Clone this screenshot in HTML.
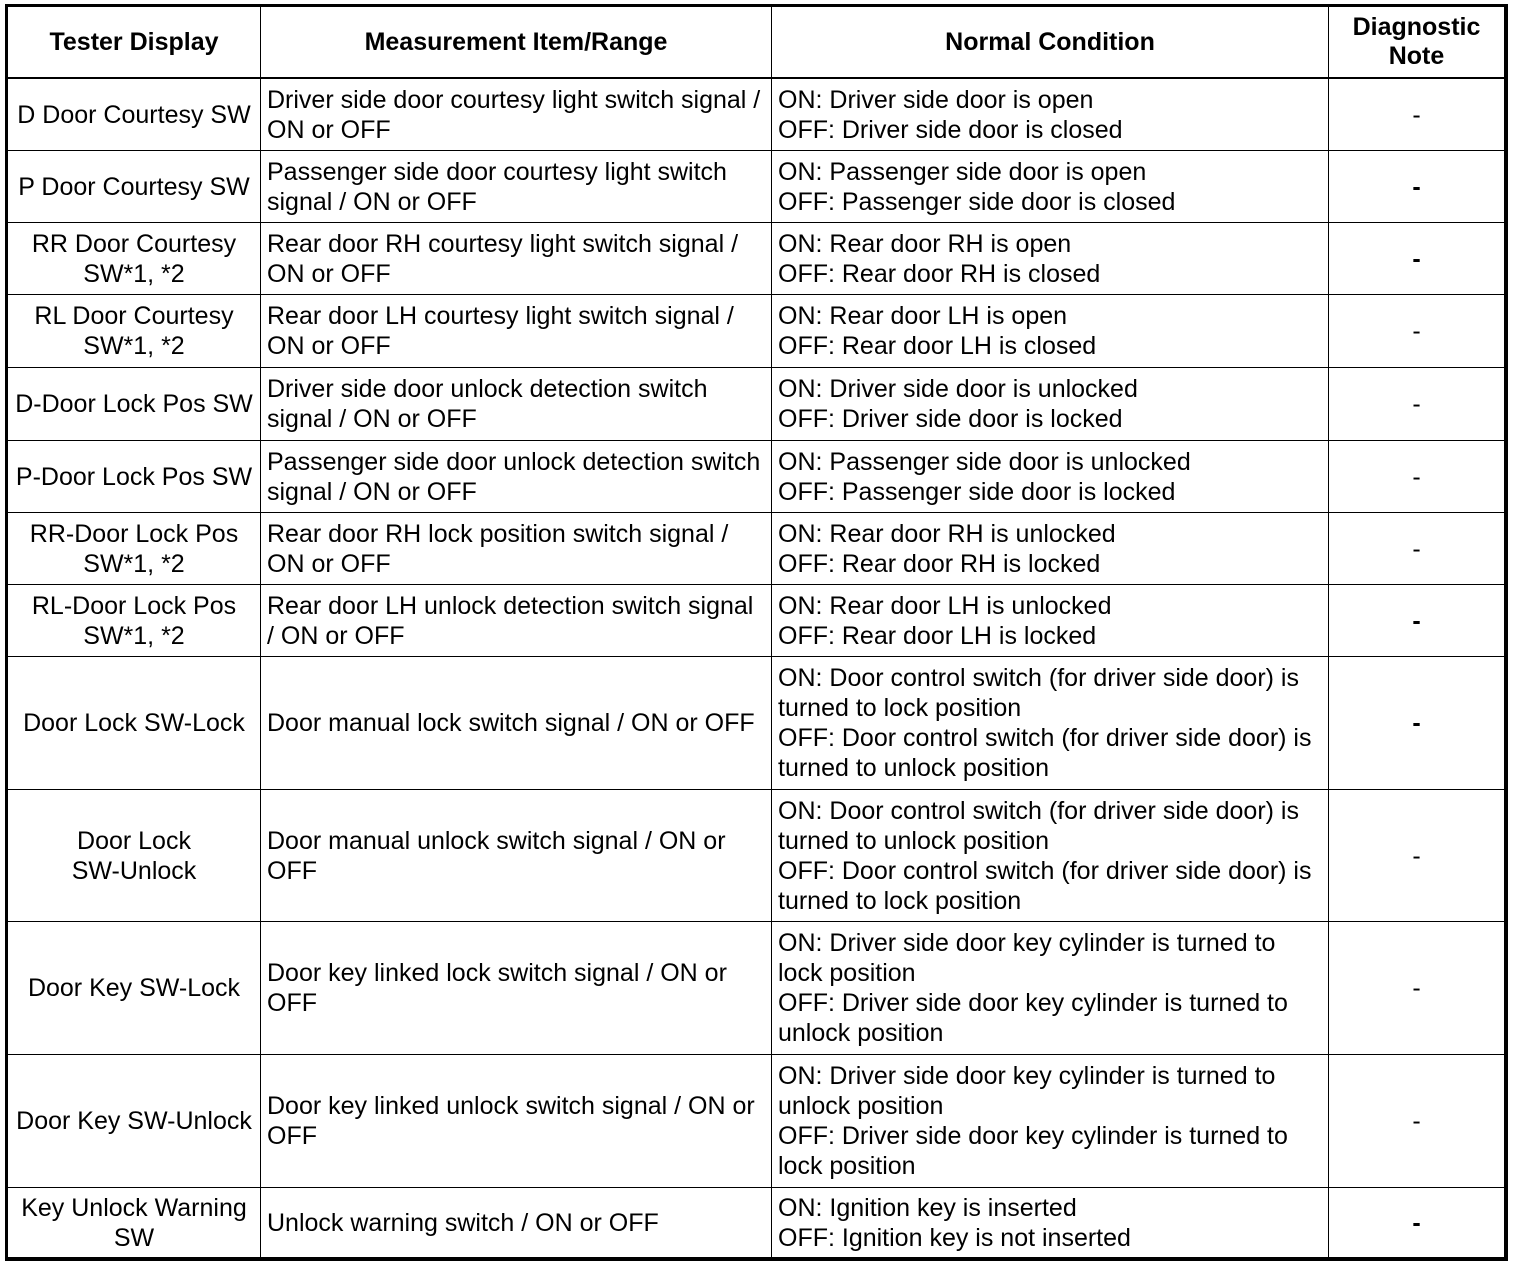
<!DOCTYPE html>
<html><head><meta charset="utf-8"><style>
body{margin:0;background:#fff;width:1520px;height:1266px;position:relative;overflow:hidden;font-family:"Liberation Sans",Arial,sans-serif;color:#000}
.h{position:absolute;background:#000}
.c{position:absolute;display:flex;align-items:center;font-size:25px;line-height:30px;box-sizing:border-box;white-space:nowrap}
.l{padding-left:6px;justify-content:flex-start}
.m{justify-content:center;text-align:center}
.b{font-weight:bold}
.d{font-weight:bold}
</style></head><body>
<div class="h" style="left:5px;top:4px;width:1503px;height:3px"></div>
<div class="h" style="left:5px;top:1257px;width:1503px;height:4px"></div>
<div class="h" style="left:5px;top:4px;width:3px;height:1257px"></div>
<div class="h" style="left:1504px;top:4px;width:4px;height:1257px"></div>
<div class="h" style="left:6px;top:77px;width:1500px;height:2px"></div>
<div class="h" style="left:260px;top:5px;width:1px;height:1255px"></div>
<div class="h" style="left:771px;top:5px;width:1px;height:1255px"></div>
<div class="h" style="left:1328px;top:5px;width:1px;height:1255px"></div>
<div class="h" style="left:6px;top:150px;width:1500px;height:1px"></div>
<div class="h" style="left:6px;top:222px;width:1500px;height:1px"></div>
<div class="h" style="left:6px;top:294px;width:1500px;height:1px"></div>
<div class="h" style="left:6px;top:367px;width:1500px;height:1px"></div>
<div class="h" style="left:6px;top:440px;width:1500px;height:1px"></div>
<div class="h" style="left:6px;top:512px;width:1500px;height:1px"></div>
<div class="h" style="left:6px;top:584px;width:1500px;height:1px"></div>
<div class="h" style="left:6px;top:656px;width:1500px;height:1px"></div>
<div class="h" style="left:6px;top:789px;width:1500px;height:1px"></div>
<div class="h" style="left:6px;top:921px;width:1500px;height:1px"></div>
<div class="h" style="left:6px;top:1054px;width:1500px;height:1px"></div>
<div class="h" style="left:6px;top:1187px;width:1500px;height:1px"></div>

<div class="c m b" style="left:8px;top:7px;width:252px;height:70px">Tester Display</div>
<div class="c m b" style="left:261px;top:7px;width:510px;height:70px">Measurement Item/Range</div>
<div class="c m b" style="left:772px;top:7px;width:556px;height:70px">Normal Condition</div>
<div class="c m b" style="left:1329px;top:7px;width:175px;height:70px;line-height:29px">Diagnostic<br>Note</div>

<div class="c m" style="left:8px;top:79px;width:252px;height:71px">D Door Courtesy SW</div>
<div class="c l" style="left:261px;top:79px;width:510px;height:71px">Driver side door courtesy light switch signal /<br>ON or OFF</div>
<div class="c l" style="left:772px;top:79px;width:556px;height:71px">ON: Driver side door is open<br>OFF: Driver side door is closed</div>
<div class="c m" style="left:1329px;top:79px;width:175px;height:71px">-</div>

<div class="c m" style="left:8px;top:151px;width:252px;height:71px">P Door Courtesy SW</div>
<div class="c l" style="left:261px;top:151px;width:510px;height:71px">Passenger side door courtesy light switch<br>signal / ON or OFF</div>
<div class="c l" style="left:772px;top:151px;width:556px;height:71px">ON: Passenger side door is open<br>OFF: Passenger side door is closed</div>
<div class="c m d" style="left:1329px;top:151px;width:175px;height:71px">-</div>

<div class="c m" style="left:8px;top:223px;width:252px;height:71px">RR Door Courtesy<br>SW*1, *2</div>
<div class="c l" style="left:261px;top:223px;width:510px;height:71px">Rear door RH courtesy light switch signal /<br>ON or OFF</div>
<div class="c l" style="left:772px;top:223px;width:556px;height:71px">ON: Rear door RH is open<br>OFF: Rear door RH is closed</div>
<div class="c m d" style="left:1329px;top:223px;width:175px;height:71px">-</div>

<div class="c m" style="left:8px;top:295px;width:252px;height:72px">RL Door Courtesy<br>SW*1, *2</div>
<div class="c l" style="left:261px;top:295px;width:510px;height:72px">Rear door LH courtesy light switch signal /<br>ON or OFF</div>
<div class="c l" style="left:772px;top:295px;width:556px;height:72px">ON: Rear door LH is open<br>OFF: Rear door LH is closed</div>
<div class="c m" style="left:1329px;top:295px;width:175px;height:72px">-</div>

<div class="c m" style="left:8px;top:368px;width:252px;height:72px">D-Door Lock Pos SW</div>
<div class="c l" style="left:261px;top:368px;width:510px;height:72px">Driver side door unlock detection switch<br>signal / ON or OFF</div>
<div class="c l" style="left:772px;top:368px;width:556px;height:72px">ON: Driver side door is unlocked<br>OFF: Driver side door is locked</div>
<div class="c m" style="left:1329px;top:368px;width:175px;height:72px">-</div>

<div class="c m" style="left:8px;top:441px;width:252px;height:71px">P-Door Lock Pos SW</div>
<div class="c l" style="left:261px;top:441px;width:510px;height:71px">Passenger side door unlock detection switch<br>signal / ON or OFF</div>
<div class="c l" style="left:772px;top:441px;width:556px;height:71px">ON: Passenger side door is unlocked<br>OFF: Passenger side door is locked</div>
<div class="c m" style="left:1329px;top:441px;width:175px;height:71px">-</div>

<div class="c m" style="left:8px;top:513px;width:252px;height:71px">RR-Door Lock Pos<br>SW*1, *2</div>
<div class="c l" style="left:261px;top:513px;width:510px;height:71px">Rear door RH lock position switch signal /<br>ON or OFF</div>
<div class="c l" style="left:772px;top:513px;width:556px;height:71px">ON: Rear door RH is unlocked<br>OFF: Rear door RH is locked</div>
<div class="c m" style="left:1329px;top:513px;width:175px;height:71px">-</div>

<div class="c m" style="left:8px;top:585px;width:252px;height:71px">RL-Door Lock Pos<br>SW*1, *2</div>
<div class="c l" style="left:261px;top:585px;width:510px;height:71px">Rear door LH unlock detection switch signal<br>/ ON or OFF</div>
<div class="c l" style="left:772px;top:585px;width:556px;height:71px">ON: Rear door LH is unlocked<br>OFF: Rear door LH is locked</div>
<div class="c m d" style="left:1329px;top:585px;width:175px;height:71px">-</div>

<div class="c m" style="left:8px;top:657px;width:252px;height:132px">Door Lock SW-Lock</div>
<div class="c l" style="left:261px;top:657px;width:510px;height:132px">Door manual lock switch signal / ON or OFF</div>
<div class="c l" style="left:772px;top:657px;width:556px;height:132px">ON: Door control switch (for driver side door) is<br>turned to lock position<br>OFF: Door control switch (for driver side door) is<br>turned to unlock position</div>
<div class="c m d" style="left:1329px;top:657px;width:175px;height:132px">-</div>

<div class="c m" style="left:8px;top:790px;width:252px;height:131px">Door Lock<br>SW-Unlock</div>
<div class="c l" style="left:261px;top:790px;width:510px;height:131px">Door manual unlock switch signal / ON or<br>OFF</div>
<div class="c l" style="left:772px;top:790px;width:556px;height:131px">ON: Door control switch (for driver side door) is<br>turned to unlock position<br>OFF: Door control switch (for driver side door) is<br>turned to lock position</div>
<div class="c m" style="left:1329px;top:790px;width:175px;height:131px">-</div>

<div class="c m" style="left:8px;top:922px;width:252px;height:132px">Door Key SW-Lock</div>
<div class="c l" style="left:261px;top:922px;width:510px;height:132px">Door key linked lock switch signal / ON or<br>OFF</div>
<div class="c l" style="left:772px;top:922px;width:556px;height:132px">ON: Driver side door key cylinder is turned to<br>lock position<br>OFF: Driver side door key cylinder is turned to<br>unlock position</div>
<div class="c m" style="left:1329px;top:922px;width:175px;height:132px">-</div>

<div class="c m" style="left:8px;top:1055px;width:252px;height:132px">Door Key SW-Unlock</div>
<div class="c l" style="left:261px;top:1055px;width:510px;height:132px">Door key linked unlock switch signal / ON or<br>OFF</div>
<div class="c l" style="left:772px;top:1055px;width:556px;height:132px">ON: Driver side door key cylinder is turned to<br>unlock position<br>OFF: Driver side door key cylinder is turned to<br>lock position</div>
<div class="c m" style="left:1329px;top:1055px;width:175px;height:132px">-</div>

<div class="c m" style="left:8px;top:1188px;width:252px;height:69px">Key Unlock Warning<br>SW</div>
<div class="c l" style="left:261px;top:1188px;width:510px;height:69px">Unlock warning switch / ON or OFF</div>
<div class="c l" style="left:772px;top:1188px;width:556px;height:69px">ON: Ignition key is inserted<br>OFF: Ignition key is not inserted</div>
<div class="c m d" style="left:1329px;top:1188px;width:175px;height:69px">-</div>
</body></html>
